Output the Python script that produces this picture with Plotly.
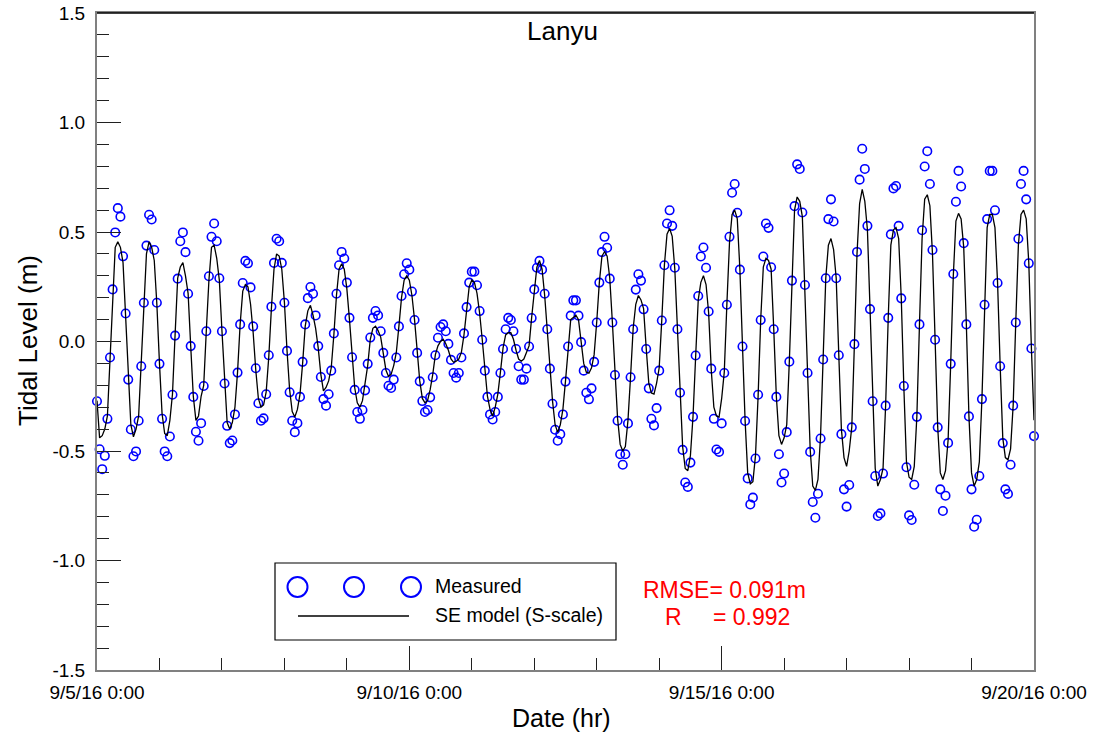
import plotly.graph_objects as go
import pandas as pd

# Hourly time stamps, 9/5/2016 00:00 to 9/20/2016 00:00
times = pd.date_range("2016-09-05 00:00", "2016-09-20 00:00", freq="h")

measured = [
    -0.273, -0.492, -0.583, -0.522, -0.353, -0.073, 0.238, 0.498, 0.609, 0.570,
    0.389, 0.128, -0.174, -0.402, -0.524, -0.502, -0.362, -0.113, 0.177, 0.438,
    0.579, 0.557, 0.418, 0.177, -0.102, -0.353, -0.502, -0.524, -0.434, -0.243,
    0.027, 0.287, 0.458, 0.498, 0.408, 0.218, -0.021, -0.253, -0.412, -0.453,
    -0.373, -0.203, 0.047, 0.298, 0.478, 0.539, 0.458, 0.289, 0.047, -0.192,
    -0.385, -0.464, -0.452, -0.333, -0.142, 0.078, 0.267, 0.368, 0.357, 0.247,
    0.069, -0.122, -0.282, -0.362, -0.351, -0.241, -0.063, 0.159, 0.359, 0.469,
    0.458, 0.359, 0.177, -0.043, -0.232, -0.362, -0.414, -0.373, -0.253, -0.093,
    0.078, 0.198, 0.249, 0.218, 0.119, -0.021, -0.162, -0.263, -0.293, -0.241,
    -0.133, 0.037, 0.218, 0.348, 0.409, 0.379, 0.269, 0.108, -0.072, -0.221,
    -0.322, -0.353, -0.313, -0.223, -0.102, 0.018, 0.108, 0.139, 0.119, 0.047,
    -0.052, -0.144, -0.202, -0.212, -0.174, -0.073, 0.069, 0.208, 0.307, 0.357,
    0.328, 0.228, 0.098, -0.052, -0.182, -0.272, -0.322, -0.313, -0.255, -0.163,
    -0.063, 0.017, 0.066, 0.078, 0.047, -0.011, -0.084, -0.144, -0.165, -0.144,
    -0.073, 0.037, 0.157, 0.269, 0.319, 0.319, 0.257, 0.139, 0.008, -0.133,
    -0.253, -0.333, -0.356, -0.322, -0.253, -0.144, -0.034, 0.056, 0.108, 0.098,
    0.047, -0.034, -0.113, -0.174, -0.174, -0.124, -0.023, 0.107, 0.238, 0.337,
    0.368, 0.328, 0.218, 0.056, -0.124, -0.284, -0.403, -0.453, -0.423, -0.333,
    -0.183, -0.023, 0.118, 0.188, 0.188, 0.118, -0.003, -0.133, -0.234, -0.264,
    -0.214, -0.093, 0.087, 0.269, 0.408, 0.478, 0.428, 0.287, 0.087, -0.153,
    -0.362, -0.515, -0.563, -0.515, -0.374, -0.163, 0.056, 0.237, 0.307, 0.278,
    0.147, -0.034, -0.214, -0.353, -0.383, -0.304, -0.133, 0.096, 0.348, 0.539,
    0.599, 0.528, 0.337, 0.056, -0.234, -0.495, -0.644, -0.664, -0.553, -0.344,
    -0.064, 0.208, 0.388, 0.429, 0.337, 0.137, -0.124, -0.353, -0.493, -0.504,
    -0.374, -0.144, 0.168, 0.478, 0.679, 0.719, 0.588, 0.328, -0.023, -0.363,
    -0.625, -0.744, -0.713, -0.534, -0.243, 0.098, 0.388, 0.539, 0.519, 0.339,
    0.056, -0.253, -0.515, -0.644, -0.603, -0.414, -0.092, 0.278, 0.618, 0.809,
    0.788, 0.589, 0.258, -0.144, -0.504, -0.733, -0.805, -0.695, -0.443, -0.082,
    0.289, 0.559, 0.649, 0.548, 0.289, -0.063, -0.423, -0.675, -0.754, -0.655,
    -0.392, -0.012, 0.409, 0.739, 0.880, 0.788, 0.528, 0.148, -0.273, -0.614,
    -0.797, -0.785, -0.603, -0.293, 0.108, 0.489, 0.699, 0.710, 0.528, 0.197,
    -0.203, -0.574, -0.794, -0.815, -0.654, -0.344, 0.078, 0.508, 0.799, 0.869,
    0.719, 0.418, 0.008, -0.392, -0.675, -0.774, -0.704, -0.463, -0.102, 0.308,
    0.638, 0.779, 0.708, 0.449, 0.078, -0.342, -0.675, -0.846, -0.814, -0.614,
    -0.263, 0.168, 0.559, 0.779, 0.779, 0.599, 0.267, -0.113, -0.464, -0.675,
    -0.696, -0.563, -0.293, 0.087, 0.469, 0.719, 0.779, 0.649, 0.357, -0.032,
    -0.432,
]

model = [
    -0.27, -0.44, -0.43, -0.40, -0.34, -0.08, 0.24, 0.43, 0.455, 0.43,
    0.36, 0.12, -0.17, -0.38, -0.435, -0.40, -0.34, -0.11, 0.18, 0.40,
    0.455, 0.43, 0.37, 0.17, -0.10, -0.33, -0.42, -0.43, -0.36, -0.24,
    0.03, 0.29, 0.34, 0.36, 0.30, 0.22, -0.02, -0.25, -0.36, -0.34,
    -0.25, -0.20, 0.05, 0.28, 0.43, 0.44, 0.38, 0.28, 0.05, -0.19,
    -0.37, -0.40, -0.37, -0.30, -0.14, 0.08, 0.23, 0.26, 0.25, 0.17,
    0.04, -0.13, -0.26, -0.30, -0.29, -0.23, -0.07, 0.15, 0.33, 0.40,
    0.39, 0.33, 0.18, -0.04, -0.22, -0.32, -0.345, -0.31, -0.24, -0.10,
    0.07, 0.14, 0.165, 0.12, 0.06, -0.03, -0.15, -0.225, -0.21, -0.18,
    -0.12, 0.03, 0.21, 0.33, 0.355, 0.33, 0.24, 0.10, -0.07, -0.21,
    -0.28, -0.30, -0.27, -0.20, -0.11, 0.01, 0.06, 0.07, 0.05, 0.02,
    -0.06, -0.13, -0.16, -0.15, -0.11, -0.05, 0.07, 0.20, 0.28, 0.30,
    0.28, 0.21, 0.10, -0.05, -0.18, -0.26, -0.28, -0.27, -0.22, -0.15,
    -0.06, -0.02, 0.00, 0.01, -0.01, -0.04, -0.08, -0.095, -0.09, -0.08,
    -0.05, 0.03, 0.15, 0.25, 0.28, 0.27, 0.22, 0.13, 0.01, -0.13,
    -0.25, -0.31, -0.34, -0.30, -0.24, -0.14, -0.03, 0.03, 0.04, 0.04,
    0.01, -0.04, -0.08, -0.09, -0.08, -0.05, -0.02, 0.11, 0.24, 0.34,
    0.37, 0.33, 0.21, 0.05, -0.12, -0.27, -0.38, -0.415, -0.38, -0.31,
    -0.18, -0.02, 0.10, 0.11, 0.12, 0.10, -0.01, -0.10, -0.14, -0.145,
    -0.12, -0.06, 0.09, 0.27, 0.39, 0.41, 0.39, 0.29, 0.09, -0.15,
    -0.35, -0.47, -0.50, -0.48, -0.36, -0.16, 0.06, 0.17, 0.21, 0.19,
    0.15, -0.03, -0.19, -0.235, -0.24, -0.19, -0.12, 0.10, 0.35, 0.49,
    0.516, 0.48, 0.33, 0.06, -0.23, -0.48, -0.58, -0.59, -0.52, -0.34,
    -0.07, 0.19, 0.27, 0.30, 0.26, 0.13, -0.13, -0.30, -0.34, -0.345,
    -0.26, -0.14, 0.17, 0.45, 0.58, 0.60, 0.56, 0.33, -0.02, -0.36,
    -0.60, -0.65, -0.64, -0.52, -0.25, 0.10, 0.34, 0.38, 0.37, 0.33,
    0.06, -0.25, -0.43, -0.47, -0.44, -0.38, -0.09, 0.27, 0.60, 0.66,
    0.64, 0.57, 0.25, -0.14, -0.49, -0.66, -0.68, -0.63, -0.43, -0.08,
    0.29, 0.44, 0.47, 0.42, 0.29, -0.06, -0.40, -0.53, -0.57, -0.50,
    -0.39, -0.01, 0.40, 0.63, 0.695, 0.64, 0.51, 0.15, -0.27, -0.58,
    -0.66, -0.63, -0.58, -0.29, 0.11, 0.44, 0.51, 0.52, 0.47, 0.20,
    -0.21, -0.55, -0.62, -0.63, -0.57, -0.34, 0.08, 0.47, 0.65, 0.67,
    0.62, 0.40, 0.01, -0.39, -0.60, -0.63, -0.59, -0.45, -0.10, 0.30,
    0.55, 0.585, 0.56, 0.43, 0.08, -0.34, -0.60, -0.66, -0.63, -0.55,
    -0.26, 0.17, 0.52, 0.58, 0.58, 0.52, 0.27, -0.11, -0.44, -0.53,
    -0.54, -0.49, -0.29, 0.09, 0.44, 0.58, 0.60, 0.56, 0.36, -0.03,
    -0.36,
]

x_tick_vals = ["2016-09-05 00:00", "2016-09-10 00:00", "2016-09-15 00:00", "2016-09-20 00:00"]
x_tick_text = ["9/5/16 0:00", "9/10/16 0:00", "9/15/16 0:00", "9/20/16 0:00"]
y_tick_vals = [-1.5, -1.0, -0.5, 0.0, 0.5, 1.0, 1.5]
y_tick_text = ["-1.5", "-1.0", "-0.5", "0.0", "0.5", "1.0", "1.5"]

FONT = "Liberation Sans, Arial, sans-serif"
W, H = 1095, 737
L, R, T, B = 97, 61, 13, 67
PW, PH = W - L - R, H - T - B


def px(xp):
    return (xp - L) / PW


def py(yp):
    return (H - B - yp) / PH


fig = go.Figure()
fig.add_trace(go.Scatter(
    x=times, y=measured, mode="markers", name="Measured",
    marker=dict(symbol="circle-open", size=8.5, color="#0000ff",
                line=dict(width=1.6, color="#0000ff")),
    cliponaxis=False, showlegend=False,
))
fig.add_trace(go.Scatter(
    x=times, y=model, mode="lines", name="SE model (S-scale)",
    line=dict(color="black", width=1.3), showlegend=False,
))

axis_common = dict(
    showgrid=False, zeroline=False, showline=True, linecolor="#808080",
    linewidth=2, mirror=True, ticks="inside", tickcolor="#202020",
    tickwidth=1.2, ticklen=24, automargin=False,
    tickfont=dict(family=FONT, size=19, color="black"),
)

fig.update_xaxes(
    type="date", range=["2016-09-05 00:00", "2016-09-20 00:00"],
    tickmode="array", tickvals=x_tick_vals, ticktext=x_tick_text,
    minor=dict(ticks="inside", ticklen=12, dtick=86400000,
               tick0="2016-09-05 00:00", tickcolor="#202020", tickwidth=1.2,
               showgrid=False),
    ticklabelstandoff=4,
    **axis_common,
)
fig.update_yaxes(
    range=[-1.5, 1.5], tickmode="array", tickvals=y_tick_vals,
    ticktext=y_tick_text,
    minor=dict(ticks="inside", ticklen=12, dtick=0.1, tick0=0,
               tickcolor="#202020", tickwidth=1.2, showgrid=False),
    ticklabelstandoff=6,
    **axis_common,
)

shapes = [
    # black top frame line
    dict(type="line", xref="paper", yref="paper", x0=0, x1=1, y0=1, y1=1,
         line=dict(color="black", width=1.5)),
    # legend box
    dict(type="rect", xref="paper", yref="paper",
         x0=px(275), x1=px(616), y0=py(640), y1=py(563),
         line=dict(color="black", width=1.2), fillcolor="white", layer="above"),
    # legend model line
    dict(type="line", xref="paper", yref="paper",
         x0=px(298), x1=px(409), y0=py(616), y1=py(616),
         line=dict(color="black", width=1.3), layer="above"),
]
for cx in (297.5, 354, 411):
    r = 10
    shapes.append(dict(type="circle", xref="paper", yref="paper",
                       x0=px(cx - r), x1=px(cx + r), y0=py(587 + r), y1=py(587 - r),
                       line=dict(color="#0000ff", width=2), layer="above"))


def note(text, x, y, size, color="black", xanchor="center", angle=0):
    return dict(text=text, x=px(x), y=py(y), xref="paper", yref="paper",
                xanchor=xanchor, yanchor="middle", showarrow=False,
                textangle=angle, font=dict(family=FONT, size=size, color=color))


annotations = [
    note("Lanyu", 562, 31, 26),
    note("Tidal Level (m)", 28, 341, 26, angle=-90),
    note("Date (hr)", 561, 718, 25),
    note("Measured", 433, 586, 19.5, xanchor="left"),
    note("SE model (S-scale)", 433, 615, 19.5, xanchor="left"),
    note("RMSE= 0.091m", 641, 590, 23, color="#ff0000", xanchor="left"),
    note("R", 663, 617, 23, color="#ff0000", xanchor="left"),
    note("= 0.992", 711, 617, 23, color="#ff0000", xanchor="left"),
]

fig.update_layout(
    width=W, height=H, autosize=False,
    margin=dict(l=L, r=R, t=T, b=B, pad=0),
    paper_bgcolor="white", plot_bgcolor="white",
    shapes=shapes, annotations=annotations, showlegend=False,
    font=dict(family=FONT, color="black"),
)

fig.write_html("out.html")
